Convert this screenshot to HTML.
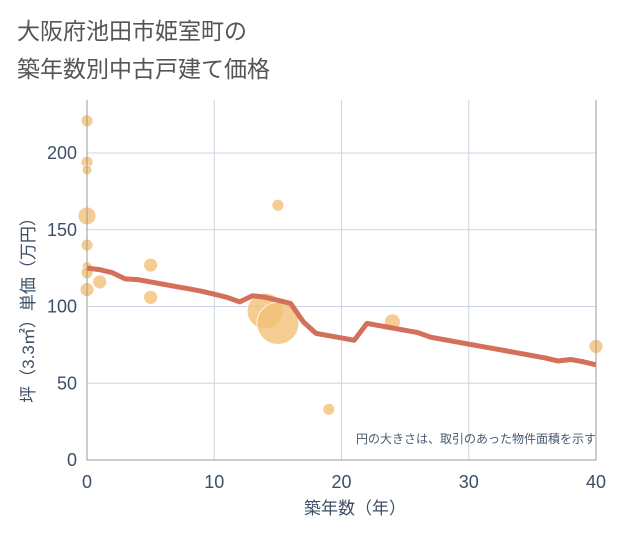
<!DOCTYPE html>
<html><head><meta charset="utf-8"><style>
body{margin:0;background:#fff;font-family:"Liberation Sans","Noto Sans CJK JP",sans-serif}
#wrap{position:relative;width:621px;height:530px;}
</style></head><body>
<div id="wrap">
<svg id="chart" width="621" height="530" xmlns="http://www.w3.org/2000/svg">
<text x="17" y="39" font-size="23" fill="#555" font-family="Liberation Sans,Noto Sans CJK JP,sans-serif">大阪府池田市姫室町の</text>
<text x="17" y="77" font-size="23" fill="#555" font-family="Liberation Sans,Noto Sans CJK JP,sans-serif">築年数別中古戸建て価格</text>
<g id="grid"></g><g id="bubbles"></g><g id="line"></g><g id="axes"></g>
<text x="596" y="443" font-size="12" fill="#4a5a70" text-anchor="end" font-family="Liberation Sans,Noto Sans CJK JP,sans-serif">円の大きさは、取引のあった物件面積を示す</text>
<text x="355" y="514" font-size="17" fill="#3d4f66" text-anchor="middle" font-family="Liberation Sans,Noto Sans CJK JP,sans-serif">築年数（年）</text>
<text transform="translate(34,306) rotate(-90)" font-size="17" fill="#3d4f66" text-anchor="middle" font-family="Liberation Sans,Noto Sans CJK JP,sans-serif">坪（3.3㎡）単価（万円）</text>
</svg></div>
<script>
const xTicks=[0,10,20,30,40];
const yTicks=[0,50,100,150,200];
const bubbleX=[0,0,0,0,0,0,0,0,1,5,5,15,14,15,19,24,40];
const bubbleY=[221,194,189,159,140,126,122,111,116,127,106,166,97,89,33,90,74];
const bubbleR=[6,6,5,9,6,5,6,7,7,7,7,6,18,21,6,8,7];
const lineX=[0,1,2,3,4,5,6,7,8,9,10,11,12,13,14,15,16,17,18,19,20,21,22,23,24,25,26,27,28,29,30,31,32,33,34,35,36,37,38,39,40];
const lineY=[125,124,122,118,117.5,116,114.5,113,111.5,110,108,106,103,107,106,104,102,90,82.5,81,79.5,78,89,87.5,86,84.5,83,80,78.5,77,75.5,74,72.5,71,69.5,68,66.5,64.5,65.5,64,62];
const L=87,R=596,T=100,B=460;
const xs=v=>L+v/40*(R-L), ys=v=>B-v/200*307;
const NS="http://www.w3.org/2000/svg";
function mk(t,a,p){const e=document.createElementNS(NS,t);for(const k in a)e.setAttribute(k,a[k]);p.appendChild(e);return e;}
const grid=document.getElementById('grid'),axes=document.getElementById('axes');
xTicks.forEach(v=>{
 const g=mk('line',{x1:xs(v),x2:xs(v),y1:T,y2:B,stroke:'#ccd6e3','stroke-width':1},grid);
 
 
 const t=mk('text',{x:xs(v),y:488,'font-size':18,fill:'#3d4f66','text-anchor':'middle'},axes);t.textContent=v;
 
 
});
yTicks.forEach(v=>{
 const g=mk('line',{x1:L,x2:R,y1:ys(v),y2:ys(v),stroke:'#ccd6e3','stroke-width':1},grid);
 
 
 const t=mk('text',{x:77,y:ys(v)+6,'font-size':18,fill:'#3d4f66','text-anchor':'end'},axes);t.textContent=v;
 
 
});
const ax=mk('path',{d:`M${L} ${T}V${B}H${R}V${T}`,fill:'none',stroke:'#999','stroke-width':1},axes);


const bg=document.getElementById('bubbles');
bubbleX.forEach((v,i)=>{
 const c=mk('circle',{cx:xs(v),cy:ys(bubbleY[i]),r:bubbleR[i],fill:'#f2c077','fill-opacity':0.8,stroke:'#fff','stroke-width':0.8},bg);
 
 
});
const p=mk('polyline',{points:lineX.map((v,i)=>xs(v)+','+ys(lineY[i])).join(' '),fill:'none',stroke:'#d4705a','stroke-width':5,'stroke-linejoin':'round'},document.getElementById('line'));


</script>
</body></html>
